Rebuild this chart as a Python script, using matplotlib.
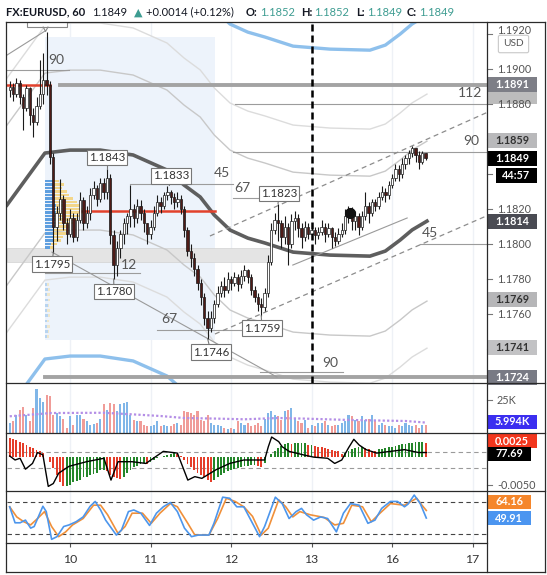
import numpy as np
import matplotlib
matplotlib.use('Agg')
import matplotlib.pyplot as plt
import matplotlib.transforms as mtransforms
from matplotlib.patches import Rectangle, FancyBboxPatch
from matplotlib.lines import Line2D

plt.rcParams['font.family'] = ['Lato', 'DejaVu Sans']

# hourly EURUSD bars, Sep 9 06:00 .. Sep 16 10:00 (bar index on the x axis)
first_open = 1.1888
close = [1.1890, 1.1886, 1.1892, 1.1884, 1.1878, 1.1889, 1.1874, 1.1870, 1.1879, 1.1886,
         1.1894, 1.1891, 1.1850, 1.1810, 1.1818, 1.1826, 1.1812, 1.1806, 1.1815, 1.1804,
         1.1814, 1.1825, 1.1812, 1.1818, 1.1828, 1.1832, 1.1826, 1.1835, 1.1830, 1.1838,
         1.1805, 1.1788, 1.1798, 1.1806, 1.1812, 1.1816, 1.1820, 1.1815, 1.1822, 1.1818,
         1.1812, 1.1806, 1.1810, 1.1818, 1.1824, 1.1822, 1.1828, 1.1830, 1.1827, 1.1824,
         1.1826, 1.1820, 1.1808, 1.1796, 1.1792, 1.1786, 1.1778, 1.1770, 1.1758, 1.1752,
         1.1758, 1.1766, 1.1772, 1.1776, 1.1774, 1.1780, 1.1778, 1.1781, 1.1777, 1.1782,
         1.1785, 1.1781, 1.1774, 1.1770, 1.1766, 1.1764, 1.1772, 1.1790, 1.1808, 1.1814,
         1.1812, 1.1804, 1.1810, 1.1800, 1.1813, 1.1815, 1.1809, 1.1804, 1.1810, 1.1806,
         1.1808, 1.1805, 1.1807, 1.1810, 1.1806, 1.1809, 1.1804, 1.1802, 1.1806, 1.1808,
         1.1816, 1.1819, 1.1813, 1.1816, 1.1810, 1.1816, 1.1822, 1.1818, 1.1824, 1.1822,
         1.1827, 1.1830, 1.1828, 1.1834, 1.1838, 1.1843, 1.1840, 1.1846, 1.1849, 1.1852,
         1.1855, 1.1851, 1.1847, 1.1852, 1.1849]
high = [1.1893, 1.1892, 1.1895, 1.1894, 1.1886, 1.1891, 1.1890, 1.1878, 1.1884, 1.1905,
        1.1909, 1.1921, 1.1893, 1.1852, 1.1822, 1.1837, 1.1828, 1.1815, 1.1820, 1.1818,
        1.1818, 1.1830, 1.1827, 1.1822, 1.1832, 1.1836, 1.1834, 1.1838, 1.1838, 1.1843,
        1.1840, 1.1808, 1.1802, 1.1808, 1.1815, 1.1818, 1.1834, 1.1823, 1.1826, 1.1825,
        1.1820, 1.1812, 1.1814, 1.1822, 1.1828, 1.1827, 1.1830, 1.1833, 1.1831, 1.1829,
        1.1830, 1.1828, 1.1822, 1.1810, 1.1800, 1.1795, 1.1788, 1.1780, 1.1772, 1.1762,
        1.1762, 1.1768, 1.1776, 1.1779, 1.1781, 1.1784, 1.1782, 1.1784, 1.1783, 1.1785,
        1.1788, 1.1786, 1.1783, 1.1776, 1.1772, 1.1769, 1.1775, 1.1794, 1.1812, 1.1818,
        1.1823, 1.1814, 1.1816, 1.1812, 1.1817, 1.1819, 1.1817, 1.1812, 1.1813, 1.1812,
        1.1811, 1.1810, 1.1810, 1.1814, 1.1812, 1.1812, 1.1810, 1.1807, 1.1809, 1.1812,
        1.1820, 1.1822, 1.1821, 1.1819, 1.1818, 1.1819, 1.1830, 1.1824, 1.1826, 1.1826,
        1.1830, 1.1833, 1.1832, 1.1836, 1.1840, 1.1846, 1.1845, 1.1849, 1.1851, 1.1854,
        1.1856, 1.1855, 1.1853, 1.1853, 1.1852]
low = [1.1884, 1.1882, 1.1884, 1.1880, 1.1865, 1.1876, 1.1868, 1.1861, 1.1868, 1.1877,
       1.1880, 1.1885, 1.1846, 1.1795, 1.1802, 1.1814, 1.1808, 1.1800, 1.1804, 1.1801,
       1.1802, 1.1812, 1.1808, 1.1809, 1.1814, 1.1826, 1.1822, 1.1824, 1.1826, 1.1826,
       1.1800, 1.1780, 1.1782, 1.1792, 1.1800, 1.1806, 1.1810, 1.1810, 1.1812, 1.1814,
       1.1807, 1.1800, 1.1803, 1.1808, 1.1816, 1.1818, 1.1820, 1.1825, 1.1823, 1.1820,
       1.1821, 1.1817, 1.1804, 1.1793, 1.1787, 1.1782, 1.1774, 1.1765, 1.1754, 1.1746,
       1.1750, 1.1755, 1.1764, 1.1770, 1.1770, 1.1772, 1.1774, 1.1776, 1.1773, 1.1775,
       1.1779, 1.1778, 1.1771, 1.1767, 1.1762, 1.1759, 1.1762, 1.1770, 1.1788, 1.1806,
       1.1802, 1.1798, 1.1800, 1.1788, 1.1798, 1.1808, 1.1804, 1.1798, 1.1802, 1.1803,
       1.1803, 1.1800, 1.1803, 1.1805, 1.1801, 1.1804, 1.1798, 1.1799, 1.1800, 1.1804,
       1.1806, 1.1812, 1.1808, 1.1808, 1.1805, 1.1808, 1.1814, 1.1812, 1.1816, 1.1819,
       1.1820, 1.1825, 1.1824, 1.1826, 1.1832, 1.1836, 1.1836, 1.1838, 1.1843, 1.1846,
       1.1850, 1.1847, 1.1843, 1.1846, 1.1848]

volume_k = [8, 9, 14, 18, 20, 14, 9, 19, 34, 27, 24, 29, 28, 14, 15, 13, 11, 4, 13, 6,
            14, 14, 11, 9, 6, 7, 8, 11, 22, 18, 23, 22, 17, 22, 23, 24, 14, 10, 9, 9,
            6, 5, 5, 6, 9, 5, 6, 5, 5, 7, 8, 6, 17, 16, 15, 14, 17, 10, 9, 14,
            8, 6, 6, 5, 4, 3, 4, 3, 9, 8, 6, 8, 5, 6, 8, 5, 11, 15, 17, 14,
            13, 10, 17, 18, 19, 11, 9, 8, 10, 4, 6, 5, 8, 8, 9, 6, 5, 6, 6, 8,
            9, 14, 13, 10, 9, 13, 10, 11, 14, 9, 6, 8, 6, 5, 5, 4, 6, 5, 8, 6,
            5, 6, 4, 6, 5.994]
vol_ma_x = [0, 12.5, 28, 38.5, 45, 52, 62, 70, 80, 88, 101, 111.5, 118, 124]
vol_ma_k = [12.8, 15.3, 15.5, 14, 13, 11.5, 11, 10.5, 11.5, 11, 10, 9.5, 9.2, 8]

# MACD histogram in units of 0.0001
macd_hist = [32, 30, 28, 26, 23, 20, 17, 15, 12, 10, 6, 0, -9, -20, -32, -44, -52, -52, -49, -45,
             -42, -40, -36, -35, -32, -30, -28, -24, -23, -26, -32, -35, -38, -39, -35, -29, -23, -19, -16, -13,
             -12, -13, -9, -6, -3, -1, 1, 3, 5, 6, 5, 1, -6, -13, -19, -23, -28, -32, -36, -40,
             -44, -41, -36, -32, -29, -26, -23, -22, -20, -19, -17, -16, -15, -15, -16, -19, -12, -1, 5, 10,
             15, 19, 22, 23, 22, 23, 23, 23, 24, 20, 20, 19, 17, 16, 15, 13, 12, 10, 9, 5,
             7, 10, 14, 15, 16, 16, 15, 13, 10, 9, 13, 14, 15, 16, 17, 19, 20, 21, 22, 23,
             24, 25, 26, 26, 24]
osc_x = [0, 1.6, 3.1, 4.7, 6.8, 8.3, 9.9, 11.5, 13, 14.6, 17.7, 22.9, 28.1, 30.2, 32.3,
         36.5, 40.6, 45.8, 50, 53.1, 55.2, 57.3, 61.5, 65.6, 69.8, 76, 77.1, 78.1, 80.2, 81.25,
         83.3, 87.5, 90.6, 94.8, 96.9, 99, 101, 102.6, 104.2, 106.25, 109.4, 113.5, 117.7, 121.9, 124.2]
osc_v = [1, -6, -3, -22, -12, 7, 3, -52, -47, -29, -17, -9, -3, -41, -9,
         -9, -12, 9, 6, -41, -35, -38, -23, -12, -6, -6, 17, 34, 26, 17,
         9, 3, -1, -3, -12, -6, 15, 30, 20, 12, 6, 9, 12, 7, 7]

stoch_k_x = [0, 1.6, 3.1, 4.7, 6.25, 7.3, 9.9, 10.9, 12.5, 14.1, 16.1, 17.7, 19.8, 21.9, 24, 25.5,
             27.1, 28.6, 31.8, 33.3, 35.4, 37, 39.1, 41.7, 43.75, 45.8, 47.9, 50, 52.1, 54.2, 56.25,
             59.4, 60.9, 63.5, 65.6, 67.7, 69.8, 71.9, 74.5, 76, 79.2, 81.25, 83.3, 85.4, 87, 88.5,
             90.6, 92.7, 94.8, 97.4, 99.5, 101.6, 104.2, 106.8, 108.9, 110.9, 113.5, 115.6, 117.7,
             118.75, 120.6, 122.4, 124.2]
stoch_k = [71, 41, 41, 46, 31, 34, 72, 62, 10, 15, 34, 37, 43, 52, 72, 81, 65, 46, 18, 27,
           62, 65, 59, 36, 59, 71, 79, 62, 31, 15, 18, 18, 40, 89, 87, 71, 71, 46, 15, 34,
           89, 77, 49, 62, 68, 56, 46, 52, 49, 24, 59, 77, 74, 40, 46, 68, 81, 81, 71, 76,
           93, 77, 49.91]
stoch_d_x = [0, 2.1, 4.2, 6.25, 8.3, 10.4, 12.5, 14.6, 16.7, 18.75, 21.9, 25, 27.1, 29.2, 32.3,
             34.4, 36.5, 39.6, 42.2, 44.8, 47.9, 50, 53.1, 55.2, 59.4, 62, 64.6, 67.2, 69.8, 72.4,
             75, 77.1, 80.2, 82.3, 84.4, 86.5, 89.6, 93.75, 96.9, 99.5, 102, 105.2, 107.8, 110.4,
             113.5, 117.7, 121.35, 122.9, 124.2]
stoch_d = [71, 52, 43, 37, 49, 62, 34, 15, 24, 37, 49, 74, 74, 56, 21, 34, 59, 59, 40, 59,
           77, 71, 40, 18, 18, 49, 87, 81, 71, 53, 18, 31, 84, 71, 52, 62, 56, 51, 37, 40,
           74, 71, 43, 59, 77, 74, 87, 74, 64.16]

# centre line of the fibonacci bands and the band offsets
mid_x = [-0.8, 10.5, 18, 27, 36.8, 46.9, 52, 56.8, 61, 65.7, 71, 76.1, 84.5, 95.5, 107.4, 112, 116.4, 120, 124.4]
mid_band = [1.18223, 1.18520, 1.18537, 1.18537, 1.18509, 1.18423, 1.18337, 1.18269, 1.18166, 1.18080,
            1.18034, 1.18006, 1.17954, 1.17937, 1.17931, 1.17960, 1.18023, 1.18081, 1.18131]
band_offsets = [0.00457, 0.00726, 0.01177]

# volume profile rows (fixed range)
vp_price = [1.1836, 1.1834, 1.1832, 1.1830, 1.1828, 1.1826, 1.1824, 1.1822, 1.1820, 1.1818,
            1.1816, 1.1814, 1.1812, 1.1810, 1.1808, 1.1806, 1.1804, 1.1802, 1.1800, 1.1798]
vp_up = [8, 9, 9, 10, 10, 10, 10, 11, 11, 11, 10, 10, 10, 10, 9, 9, 8, 8, 6, 5]
vp_down = [6, 10, 8, 12, 14, 18, 22, 24, 28, 30, 26, 22, 20, 16, 14, 12, 10, 8, 6, 4]
vp2_price = [1.1777, 1.1774, 1.1771, 1.1768, 1.1765, 1.1762, 1.1759, 1.1756, 1.1753, 1.1750, 1.1747]
vp2_up = [2, 3, 2, 3, 3, 2, 3, 2, 2, 3, 2]
vp2_down = [2, 2, 3, 2, 1, 3, 2, 2, 3, 1, 2]

# drawings on the chart
level_lines = [(-0.8, 17.6, 1.18994), (67.2, 142.3, 1.18800), (66.6, 142.3, 1.18526),
               (35.9, 66.6, 1.18343), (66.6, 80.6, 1.18263), (10.5, 38.9, 1.17834),
               (43.9, 69.6, 1.17509), (74.6, 99.4, 1.17269), (122.4, 142.3, 1.18000)]
level_texts = [(13.8, 1.19051, '90'), (137.3, 1.18863, '112'), (137.6, 1.18589, '90'),
               (63.3, 1.18406, '45'), (69.3, 1.18320, '67'), (35.6, 1.17880, '12'),
               (47.5, 1.17571, '67'), (95.5, 1.17320, '90'), (125.3, 1.18063, '45')]
thick_levels = [(15.0, 142.3, 1.1891), (10.5, 142.3, 1.1724)]
red_levels = [(-0.8, 12.0, 1.1891), (21.0, 61.2, 1.1819)]
trend_lines = [((12.6, 1.17954), (79.7, 1.1724)), ((84.4, 1.17880), (118.5, 1.18149)),
               ((-0.8, 1.1908), (10.5, 1.19217))]
channel_lines = [((59.7, 1.18046), (142.3, 1.18752)), ((61.2, 1.17486), (142.3, 1.18162))]
tags = [('1.1843', 29.0, 1.18497, 29, 1.1843), ('1.1833', 48.1, 1.18389, 47.6, 1.18335),
        ('1.1823', 80.3, 1.18291, 80, 1.1823), ('1.1795', 12.6, 1.17886, 13, 1.1795),
        ('1.1780', 31.1, 1.17731, 31, 1.1780), ('1.1759', 75.2, 1.17520, 75, 1.1759),
        ('1.1746', 60.0, 1.17383, 59, 1.1746)]

day_pos = [18, 42, 66, 90, 114, 138]
day_labels = ['10', '11', '12', '13', '16', '17']
price_ticks = [1.1740, 1.1760, 1.1780, 1.1800, 1.1820, 1.1840, 1.1860, 1.1880, 1.1900, 1.1920]
covered_ticks = [1.1740, 1.1840, 1.1860]   # hidden behind the value boxes

# ---------------- layout ----------------
W, H = 547, 575
fig = plt.figure(figsize=(W / 100, H / 100), dpi=100)
L, R = 7, 487
AXW = R - L


def axes_px(top, bottom):
    return fig.add_axes([L / W, 1 - bottom / H, AXW / W, (bottom - top) / H])


main = axes_px(22, 383)
vol = axes_px(383, 433)
macd = axes_px(433, 491)
sto = axes_px(491, 543)
pane_h = {main: 361, vol: 50, macd: 58, sto: 52}

for ax in (main, vol, macd, sto):
    ax.set_xlim(-0.8, 142.3)
    for s in ax.spines.values():
        s.set_visible(False)
    ax.set_xticks([])
    ax.set_yticks([])
    for d in day_pos:
        ax.axvline(d, color='#eef1f6', lw=1, zorder=0)

main.set_ylim(1.17206, 1.19269)
vol.set_ylim(0, 38.3)
macd.set_ylim(-60, 41)
sto.set_ylim(3.1, 100.6)


def rtrans(ax):
    return mtransforms.blended_transform_factory(ax.transAxes, ax.transData)


def tick_label(ax, val, txt, dy=0.0):
    t = rtrans(ax)
    ax.plot([1.0, 1.0 + 5 / AXW], [val, val], transform=t, color='#777', lw=0.8, clip_on=False)
    if txt:
        ax.text(1.0 + 10 / AXW, val + dy, txt, transform=t, ha='left', va='center', fontsize=7.8,
                color='#555', clip_on=False, zorder=15)


def value_box(ax, val, txt, fc, tc, w=50, x0=0, h=15, z=20):
    t = rtrans(ax)
    y0, y1 = ax.get_ylim()
    k = (y1 - y0) / pane_h[ax]
    ax.add_patch(Rectangle((1.0 + x0 / AXW, val - h / 2 * k), w / AXW, h * k, transform=t,
                           fc=fc, ec='none', clip_on=False, zorder=z))
    ax.text(1.0 + (x0 + w / 2) / AXW, val, txt, transform=t, ha='center', va='center',
            fontsize=7.8, fontweight='bold', color=tc, clip_on=False, zorder=z + 1)


# ---------------- main price pane ----------------
idx = np.arange(len(close))
c = np.array(close)
o = np.r_[first_open, c[:-1]]
up = c >= o

main.add_patch(Rectangle((10.5, 1.17451), 50.7, 1.19183 - 1.17451, fc='#edf3fb', ec='none', zorder=0.5))
main.add_patch(Rectangle((-0.8, 1.17897), 78.4, 0.0008, fc='#e4e4e4', ec='#d2d2d2', lw=0.5, zorder=1))

mx = np.array(mid_x)
mb = np.array(mid_band)
for off, col, lw in zip(band_offsets, ['#c8c8c8', '#dcdcdc', '#8ec0ec'], [1.0, 1.0, 2.4]):
    main.plot(mx, mb + off, color=col, lw=lw, zorder=2)
    main.plot(mx, mb - off, color=col, lw=lw, zorder=2)
main.plot(mx, mb, color='#5e5e5e', lw=2.6, zorder=3)

# volume profile
vp_scale = 1 / 3.354
main.barh(vp_price, np.array(vp_up) * vp_scale, left=10.5, height=0.00016, color='#5f9fdf', zorder=2.5)
main.barh(vp_price, np.array(vp_down) * vp_scale, left=10.5 + np.array(vp_up) * vp_scale,
          height=0.00016, color='#f3d68a', zorder=2.5)
main.barh(vp2_price, np.array(vp2_up) * vp_scale, left=10.5, height=0.00016, color='#6aa6e0',
          alpha=0.4, zorder=2.5)
main.barh(vp2_price, np.array(vp2_down) * vp_scale, left=10.5 + np.array(vp2_up) * vp_scale,
          height=0.00016, color='#f3d68a', alpha=0.4, zorder=2.5)

for x0, x1, p in level_lines:
    main.plot([x0, x1], [p, p], color='#9c9c9c', lw=0.8, zorder=3)
for x0, x1, p in thick_levels:
    main.plot([x0, x1], [p, p], color='#a3a3a3', lw=2.8, zorder=3)
for x0, x1, p in red_levels:
    main.plot([x0, x1], [p, p], color='#e2412c', lw=1.8, zorder=4)
for (xa, ya), (xb, yb) in trend_lines:
    main.plot([xa, xb], [ya, yb], color='#9a9a9a', lw=0.8, zorder=3)
for (xa, ya), (xb, yb) in channel_lines:
    main.plot([xa, xb], [ya, yb], color='#8c8c8c', lw=0.9, ls=(0, (4, 3)), zorder=3)
for x, p, t in level_texts:
    main.text(x, p, t, ha='center', va='center', fontsize=10, color='#555', zorder=7)

# cut-off label box at the spike high
main.add_patch(Rectangle((5.2, 1.1924), 11.9, 0.0012, fc='white', ec='#888', lw=0.8, zorder=7))
main.plot([10.0, 10.7, 11.4], [1.1924, 1.19215, 1.1924], color='#888', lw=0.8, zorder=7)

main.axvline(90, color='black', lw=1.8, ls=(0, (2.8, 1.6)), zorder=8)

main.vlines(idx, low, high, color='#1a1a1a', lw=0.8, zorder=5)
body_lo = np.minimum(o, c)
body_h = np.maximum(np.abs(c - o), 0.00004)
main.bar(idx, body_h, bottom=body_lo, width=0.7,
         color=['white' if u else '#4e1b17' for u in up],
         edgecolor='#1a1a1a', linewidth=0.5, zorder=6)
main.plot([101.5], [1.18177], 'o', color='#111', ms=7, zorder=7)

for txt, bx, by, px, py in tags:
    main.plot([bx, px], [by, py], color='#777', lw=0.8, zorder=8)
    main.text(bx, by, txt, ha='center', va='center', fontsize=8.3, color='#333', zorder=9,
              bbox=dict(boxstyle='square,pad=0.18', fc='white', ec='#777', lw=0.8))

for p in price_ticks:
    if p in covered_ticks:
        tick_label(main, p, '')
    elif p == 1.1920:
        # only the upper half shows above the currency box
        tick_label(main, p, f'{p:.4f}', dy=0.00022)
    else:
        tick_label(main, p, f'{p:.4f}')
value_box(main, 1.18846, '', '#bcbcbc', '#333', z=12)
value_box(main, 1.1891, '1.1891', '#7d7e86', 'white')
value_box(main, 1.1859, '1.1859', '#b9b9bb', '#333')
value_box(main, 1.1849, '1.1849', '#000000', 'white')
value_box(main, 1.18389, '44:57', '#000000', 'white', w=41, x0=9)
value_box(main, 1.1813, '1.1814', '#4a4b53', 'white')
value_box(main, 1.17686, '1.1769', '#b6b6b8', '#333')
value_box(main, 1.17411, '1.1741', '#c2c2c4', '#333')
value_box(main, 1.1724, '1.1724', '#787a84', 'white')

fig.add_artist(FancyBboxPatch((500 / W, 1 - 51 / H), 27 / W, 14 / H, boxstyle='round,pad=0.003',
                              transform=fig.transFigure, fc='white', ec='#c8c8c8', lw=0.8, zorder=30))
fig.text(513.5 / W, 1 - 44 / H, 'USD', ha='center', va='center', fontsize=7.3, color='#555', zorder=31)

# ---------------- volume pane ----------------
vcol = ['#80b6e8' if u else '#f09c98' for u in up]
vol.bar(idx, volume_k, width=0.62, color=vcol, zorder=2)
vol.plot(vol_ma_x, vol_ma_k, color='#b48ee6', lw=1.6, ls=(0, (1, 1)), zorder=3)
tick_label(vol, 25, '25K')
value_box(vol, 8.5, '5.994K', '#3b2ef0', 'white', h=14)

# ---------------- MACD pane ----------------
hist = np.array(macd_hist)
hcol = ['#e53e2a' if i == 0 or hist[i] < hist[i - 1] else '#24862a' for i in range(len(hist))]
macd.bar(idx, hist, width=0.55, color=hcol, zorder=2)
macd.axhline(8, color='#9a9a9a', lw=0.8, ls=(0, (4, 3)), zorder=1)
macd.axhline(-20, color='#9a9a9a', lw=0.8, ls=(0, (4, 3)), zorder=1)
macd.plot(osc_x, osc_v, color='black', lw=1.0, zorder=3)
tick_label(macd, -50, '-0.0050')
value_box(macd, 26.5, '0.0025', '#f2361d', 'white', h=14)
value_box(macd, 4.7, '77.69', '#000000', 'white', w=44, h=14)

# ---------------- stochastic pane ----------------
sto.axhline(80, color='#444', lw=0.8, ls=(0, (4, 3)), zorder=1)
sto.axhline(20, color='#444', lw=0.8, ls=(0, (4, 3)), zorder=1)
sto.plot(stoch_d_x, stoch_d, color='#f0903a', lw=1.2, zorder=2)
sto.plot(stoch_k_x, stoch_k, color='#4d96ec', lw=1.2, zorder=3)
value_box(sto, 80.9, '64.16', '#f5862b', 'white', w=44, h=14)
value_box(sto, 49.4, '49.91', '#4b95f0', 'white', w=44, h=14)

sto.set_xticks(day_pos)
sto.set_xticklabels(day_labels)
sto.tick_params(axis='x', length=3, width=0.8, color='#555', labelsize=8.8, labelcolor='#333', pad=5)

# ---------------- frame ----------------
def hl(y, x0, x1):
    fig.add_artist(Line2D([x0 / W, x1 / W], [1 - y / H, 1 - y / H], color='#2a2a2a', lw=0.9))


def vl(x, y0, y1):
    fig.add_artist(Line2D([x / W, x / W], [1 - y0 / H, 1 - y1 / H], color='#2a2a2a', lw=0.9))


for y in (22, 383, 433, 491, 572):
    hl(y, 6, 545)
hl(543, 6, 487)
vl(6, 22, 572)
vl(545, 22, 572)
vl(487, 22, 572)

# ---------------- header ----------------
header = [(6, 'FX:EURUSD, 60', '#131722', 'bold'), (92, '1.1849', '#131722', 'normal'),
          (134, '▲', '#3d9c91', 'normal'), (146, '+0.0014 (+0.12%)', '#131722', 'normal'),
          (246, 'O:', '#131722', 'bold'), (259, '1.1852', '#3d9c91', 'normal'),
          (301, 'H:', '#131722', 'bold'), (314, '1.1852', '#3d9c91', 'normal'),
          (356, 'L:', '#131722', 'bold'), (366, '1.1849', '#3d9c91', 'normal'),
          (407, 'C:', '#131722', 'bold'), (419, '1.1849', '#3d9c91', 'normal')]
renderer = fig.canvas.get_renderer()
prev_end = None
for x, t, col, wt in header:
    xp = x if prev_end is None else max(x, prev_end + 2)
    txt = fig.text(xp / W, 1 - 12 / H, t, ha='left', va='center', fontsize=8.0, color=col, fontweight=wt)
    prev_end = txt.get_window_extent(renderer).x1

fig.savefig('out.png', dpi=100)
